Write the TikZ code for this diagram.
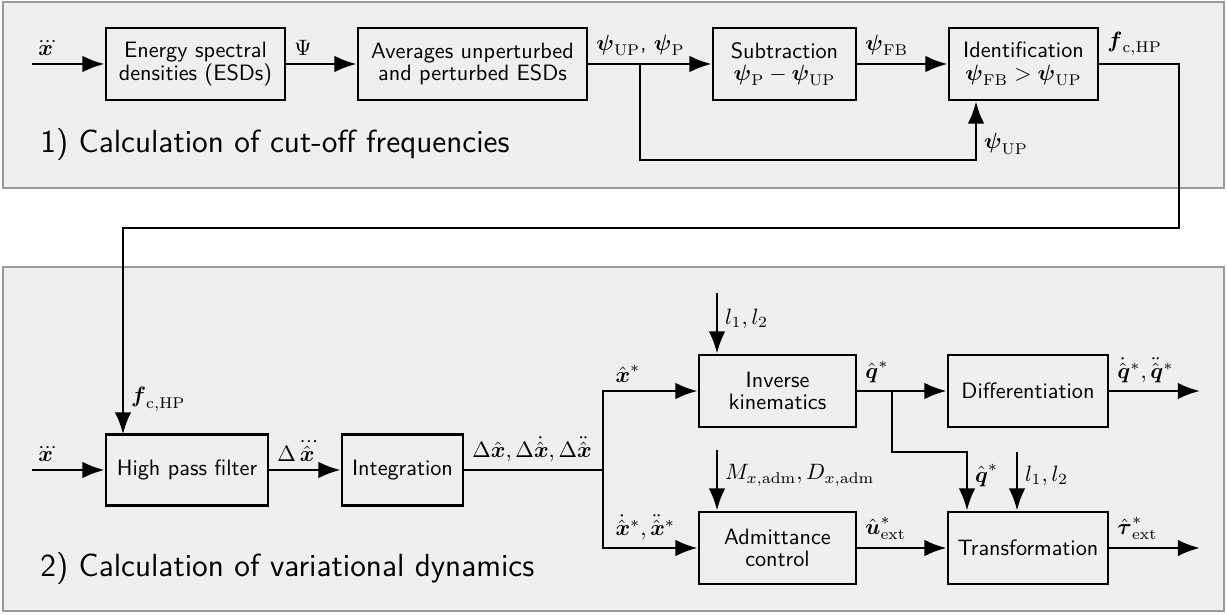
\documentclass[tikz,border=0pt]{standalone}
\usepackage{amsmath,amssymb}
\usetikzlibrary{arrows.meta,calc}
\renewcommand{\familydefault}{\sfdefault}
\definecolor{panelfill}{HTML}{EFEFEF}
\definecolor{panelline}{HTML}{9A9A9A}
\newcommand{\pxu}{0.45pt}
\begin{document}
\begin{tikzpicture}[x=0.45pt,y=-0.45pt,
  blk/.style={draw, line width=1.25pt, align=center, inner sep=2pt, font=\sffamily},
  arr/.style={line width=1.25pt, -{Latex[length=10pt,width=7.5pt]}},
  con/.style={line width=1.25pt},
  lbl/.style={inner sep=3pt},
  panel/.style={draw=panelline, fill=panelfill, line width=0.9pt},
  ptitle/.style={font=\sffamily\Large, anchor=base west, inner sep=0pt}]
\useasboundingbox (0,0) rectangle (1227,615);
\fill[white] (0,0) rectangle (1227,615);
\draw[panel] (3,2) rectangle (1224,188);
\draw[panel] (3,267) rectangle (1224,611);

\node[ptitle] (t1) at (40,153) {1) Calculation of cut-off frequencies};
\node[ptitle] (t2) at (40,576) {2) Calculation of variational dynamics};

% top row
\node[blk, minimum width=179*\pxu, minimum height=72*\pxu] (esd) at (195.5,64) {Energy spectral\\[-2pt]densities (ESDs)};
\node[blk, minimum width=229*\pxu, minimum height=72*\pxu] (avg) at (472.5,64) {Averages unperturbed\\[-2pt]and perturbed ESDs};
\node[blk, minimum width=143*\pxu, minimum height=72*\pxu] (sub) at (784.5,64) {Subtraction\\[-2pt]$\boldsymbol{\psi}_{\mathrm{P}}-\boldsymbol{\psi}_{\mathrm{UP}}$};
\node[blk, minimum width=149*\pxu, minimum height=72*\pxu] (ide) at (1023.5,64) {Identification\\[-2pt]$\boldsymbol{\psi}_{\mathrm{FB}}>\boldsymbol{\psi}_{\mathrm{UP}}$};

\coordinate (in1) at (32,64);
\coordinate (b1) at (640,64);
\coordinate (fb) at (976,160);
\coordinate (c1) at (1179,228);
\coordinate (c2) at (123,228);

\draw[arr] (in1) -- node[lbl,pos=0.19,above]{$\dddot{\boldsymbol{x}}$} (esd.west);
\draw[arr] (esd.east) -- node[lbl,pos=0,anchor=south west]{$\Psi$} (avg.west);
\draw[arr] (avg.east) -- node[lbl,pos=0,anchor=south west]{$\boldsymbol{\psi}_{\mathrm{UP}}$, $\boldsymbol{\psi}_{\mathrm{P}}$} (sub.west);
\draw[arr] (b1) |- (fb) -- node[lbl,pos=0.28,right]{$\boldsymbol{\psi}_{\mathrm{UP}}$} (fb |- ide.south);
\draw[arr] (sub.east) -- node[lbl,pos=0,anchor=south west]{$\boldsymbol{\psi}_{\mathrm{FB}}$} (ide.west);
\draw[arr] (ide.east) -- node[lbl,pos=0,anchor=south west]{$\boldsymbol{f}_{\mathrm{c,HP}}$} (ide.east -| c1) -- (c1) -- (c2)
   -- node[lbl,pos=0.83,right]{$\boldsymbol{f}_{\mathrm{c,HP}}$} (c2 |- 0,434.5);

% bottom
\node[blk, minimum width=162*\pxu, minimum height=71*\pxu] (hpf) at (187,470) {High pass filter};
\node[blk, minimum width=121*\pxu, minimum height=71*\pxu] (int) at (402.5,470) {Integration};
\node[blk, minimum width=157*\pxu, minimum height=72*\pxu] (ik) at (777.5,391) {Inverse\\[-2pt]kinematics};
\node[blk, minimum width=157*\pxu, minimum height=72*\pxu] (adm) at (777.5,548) {Admittance\\[-2pt]control};
\node[blk, minimum width=160*\pxu, minimum height=72*\pxu] (dif) at (1028,391) {Differentiation};
\node[blk, minimum width=160*\pxu, minimum height=72*\pxu] (tra) at (1028,548) {Transformation};

\coordinate (in2) at (32,470);
\coordinate (j) at (603,470);
\coordinate (lin1) at (717,293);
\coordinate (min) at (717,450);
\coordinate (qb) at (892,391);
\coordinate (qc) at (967,452);
\coordinate (lin2) at (1017,452);
\coordinate (o1) at (1200,391);
\coordinate (o2) at (1200,548);

\draw[arr] (in2) -- node[lbl,pos=0.19,above]{$\dddot{\boldsymbol{x}}$} (hpf.west);
\draw[arr] (hpf.east) -- node[lbl,pos=0,anchor=south west]{$\Delta\dddot{\hat{\boldsymbol{x}}}$} (int.west);
\draw[con] (int.east) -- node[lbl,pos=0,anchor=south west]{$\Delta\hat{\boldsymbol{x}},\Delta\dot{\hat{\boldsymbol{x}}},\Delta\ddot{\hat{\boldsymbol{x}}}$} (j);
\draw[arr] (j) |- node[lbl,pos=0.5,anchor=south west,xshift=2pt]{$\hat{\boldsymbol{x}}^*$} (ik.west);
\draw[arr] (j) |- node[lbl,pos=0.5,anchor=south west,xshift=2pt]{$\dot{\hat{\boldsymbol{x}}}^*,\ddot{\hat{\boldsymbol{x}}}^*$} (adm.west);
\draw[arr] (lin1) -- node[lbl,pos=0.42,right]{$l_1,l_2$} (lin1 |- ik.north);
\draw[arr] (min) -- node[lbl,pos=0.42,right]{$M_{x,\mathrm{adm}},D_{x,\mathrm{adm}}$} (min |- adm.north);
\draw[arr] (ik.east) -- node[lbl,pos=0,anchor=south west]{$\hat{\boldsymbol{q}}^*$} (dif.west);
\draw[arr] (qb) |- (qc) -- node[lbl,pos=0.4,right]{$\hat{\boldsymbol{q}}^*$} (qc |- tra.north);
\draw[arr] (lin2) -- node[lbl,pos=0.4,right]{$l_1,l_2$} (lin2 |- tra.north);
\draw[arr] (adm.east) -- node[lbl,pos=0,anchor=south west]{$\hat{\boldsymbol{u}}^*_{\mathrm{ext}}$} (tra.west);
\draw[arr] (dif.east) -- node[lbl,pos=0,anchor=south west]{$\dot{\hat{\boldsymbol{q}}}^*,\ddot{\hat{\boldsymbol{q}}}^*$} (o1);
\draw[arr] (tra.east) -- node[lbl,pos=0,anchor=south west]{$\hat{\boldsymbol{\tau}}^*_{\mathrm{ext}}$} (o2);
\end{tikzpicture}
\end{document}
